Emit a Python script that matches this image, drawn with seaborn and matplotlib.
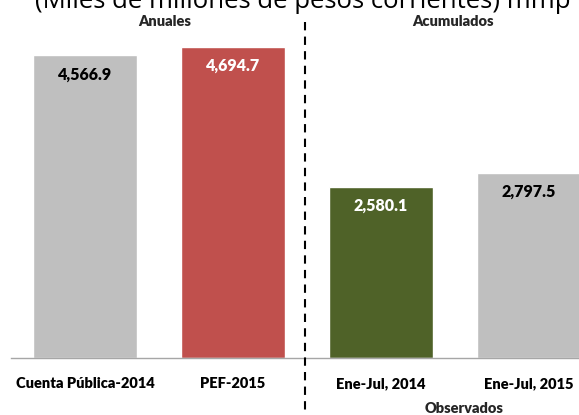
import matplotlib
matplotlib.use("Agg")
import matplotlib.pyplot as plt
import seaborn as sns
import pandas as pd
from matplotlib.lines import Line2D

categories = ["Cuenta Pública-2014", "PEF-2015", "Ene-Jul, 2014", "Ene-Jul, 2015"]
values = [4566.9, 4694.7, 2580.1, 2797.5]
bar_colors = ["#BFBFBF", "#C0504D", "#4F6228", "#BFBFBF"]
label_colors = ["#000000", "#FFFFFF", "#FFFFFF", "#000000"]
title = "(Miles de millones de pesos corrientes) mmp"
group_left = "Anuales"
group_right = "Acumulados"
group_bottom = "Observados"

sns.set_theme(style="white")
plt.rcParams["font.family"] = ["Lato", "DejaVu Sans"]

df = pd.DataFrame({"cat": categories, "val": values})

W, H = 579, 415
fig = plt.figure(figsize=(W / 100, H / 100), dpi=100)
ax_left = 11 / W
ax_right = 603 / W
ax_bottom = 1 - 358 / H
ax_top = 1 - 26.5 / H
ax = fig.add_axes([ax_left, ax_bottom, ax_right - ax_left, ax_top - ax_bottom])

sns.barplot(data=df, x="cat", y="val", hue="cat", palette=bar_colors,
            width=0.7, saturation=1, legend=False, ax=ax)
ax.set_ylim(0, 5000)
ax.set_xlim(-0.5, 3.5)
ax.set_xlabel("")
ax.set_ylabel("")
ax.set_yticks([])
for s in ["top", "right", "left"]:
    ax.spines[s].set_visible(False)
ax.spines["bottom"].set_color("#A6A6A6")
ax.spines["bottom"].set_linewidth(1.0)
ax.tick_params(axis="x", which="major", length=0, pad=14, labelsize=10.5)
for t in ax.get_xticklabels():
    t.set_fontweight("heavy")
    t.set_color("#000000")
ax.set_xticks([0.5, 1.5, 2.5], minor=True)
ax.tick_params(axis="x", which="minor", length=4, color="#A6A6A6", direction="out")

# value labels inside bars
offset = 19 * 5000 / (358 - 26.5)
for i, (v, c) in enumerate(zip(values, label_colors)):
    ax.text(i, v - offset, f"{v:,.1f}", ha="center", va="center",
            fontsize=11.5, fontweight="heavy", color=c)

# title (clipped at top, as in the reference)
fig.text(303 / W, 1 - 8 / H, title, ha="center", va="baseline", fontsize=18.5,
         family=["Open Sans", "DejaVu Sans"], color="#000000")
fig.text(165 / W, 1 - 22 / H, group_left, ha="center", va="center",
         fontsize=10.5, fontweight="heavy")
fig.text(453 / W, 1 - 22 / H, group_right, ha="center", va="center",
         fontsize=10.5, fontweight="heavy")
fig.text(464 / W, 1 - 408 / H, group_bottom, ha="center", va="center",
         fontsize=10.5, fontweight="heavy")

# dashed separator
fig.add_artist(Line2D([305 / W, 305 / W], [1 - 22 / H, 0], transform=fig.transFigure,
                      color="#000000", linewidth=1.5, linestyle=(0, (4, 3))))

fig.savefig("out.png", dpi=100)
